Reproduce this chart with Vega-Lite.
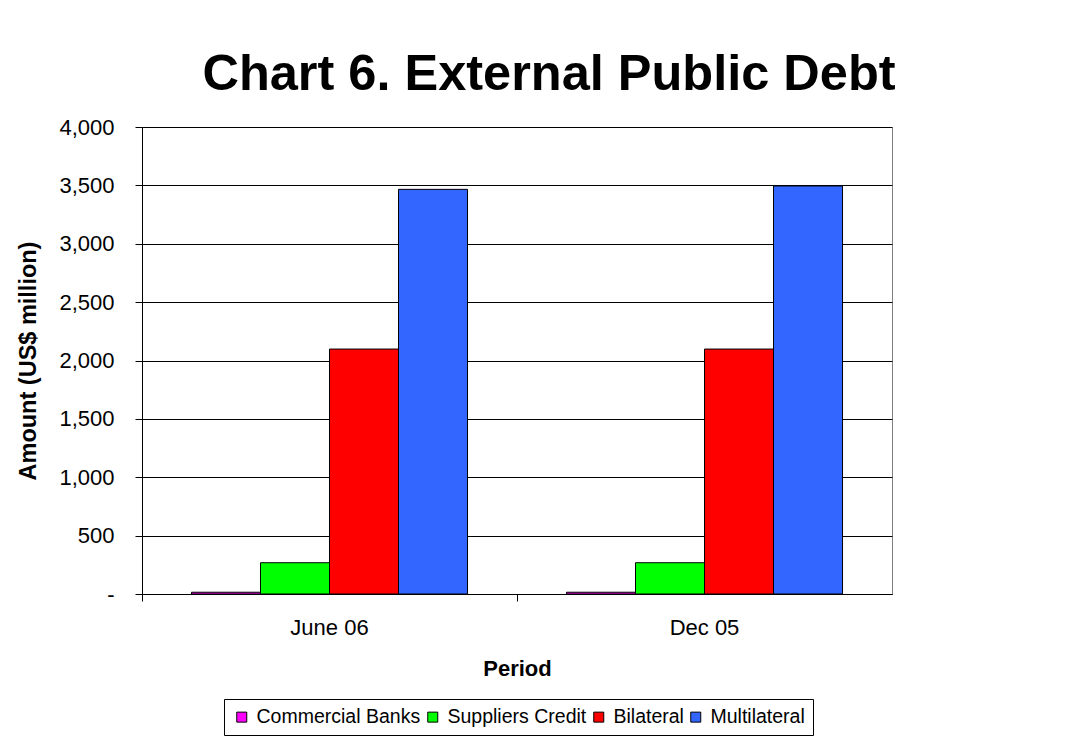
{
  "$schema": "https://vega.github.io/schema/vega-lite/v6.json",
  "autosize": {"type": "none"},
  "width": 750,
  "height": 467,
  "padding": {"left": 142, "top": 127, "right": 186, "bottom": 151},
  "background": "white",
  "config": {
    "font": "Liberation Sans",
    "view": {"stroke": "#808080", "strokeWidth": 1},
    "axis": {"labelColor": "black", "titleColor": "black", "domainColor": "black", "tickColor": "black"}
  },
  "title": {
    "text": "Chart 6. External Public Debt",
    "fontSize": 50.5,
    "fontWeight": "bold",
    "font": "Liberation Sans",
    "color": "black",
    "anchor": "middle",
    "frame": "group",
    "dx": 32,
    "offset": 16
  },
  "data": {
    "values": [
      {"period": "June 06", "type": "Commercial Banks", "amount": 15},
      {"period": "June 06", "type": "Suppliers Credit", "amount": 268},
      {"period": "June 06", "type": "Bilateral", "amount": 2098},
      {"period": "June 06", "type": "Multilateral", "amount": 3466},
      {"period": "Dec 05", "type": "Commercial Banks", "amount": 15},
      {"period": "Dec 05", "type": "Suppliers Credit", "amount": 268},
      {"period": "Dec 05", "type": "Bilateral", "amount": 2098},
      {"period": "Dec 05", "type": "Multilateral", "amount": 3495}
    ]
  },
  "mark": {"type": "bar", "stroke": "black", "strokeWidth": 1},
  "encoding": {
    "x": {
      "field": "period",
      "type": "nominal",
      "sort": ["June 06", "Dec 05"],
      "scale": {"paddingInner": 0, "paddingOuter": 0},
      "axis": {
        "title": "Period",
        "titleFontSize": 22,
        "titleFontWeight": "bold",
        "titlePadding": 20,
        "labelAngle": 0,
        "labelFontSize": 22,
        "labelPadding": 16,
        "tickSize": 7,
        "bandPosition": 0,
        "domainColor": "black",
        "grid": false
      }
    },
    "xOffset": {
      "field": "type",
      "type": "nominal",
      "sort": ["Commercial Banks", "Suppliers Credit", "Bilateral", "Multilateral"],
      "scale": {"paddingInner": 0, "paddingOuter": 0.717}
    },
    "y": {
      "field": "amount",
      "type": "quantitative",
      "scale": {"domain": [0, 4000], "nice": false},
      "axis": {
        "title": "Amount (US$ million)",
        "titleFontSize": 23.5,
        "titleFontWeight": "bold",
        "titlePadding": 18,
        "values": [0, 500, 1000, 1500, 2000, 2500, 3000, 3500, 4000],
        "labelExpr": "datum.value == 0 ? '-\u00a0\u00a0\u00a0\u00a0\u00a0' : format(datum.value, ',')",
        "labelFontSize": 22,
        "labelPadding": 21,
        "tickSize": 7,
        "grid": true,
        "gridColor": "black",
        "gridOpacity": 1,
        "gridWidth": 1
      }
    },
    "color": {
      "field": "type",
      "type": "nominal",
      "sort": ["Commercial Banks", "Suppliers Credit", "Bilateral", "Multilateral"],
      "scale": {
        "domain": ["Commercial Banks", "Suppliers Credit", "Bilateral", "Multilateral"],
        "range": ["#FF00FF", "#00FF00", "#FF0000", "#3366FF"]
      },
      "legend": {
        "title": null,
        "orient": "none",
        "legendX": 82,
        "legendY": 572,
        "direction": "horizontal",
        "labelFontSize": 19.5,
        "labelLimit": 400,
        "labelColor": "black",
        "symbolType": "square",
        "symbolSize": 100,
        "symbolStrokeColor": "black",
        "symbolStrokeWidth": 1,
        "symbolOpacity": 1,
        "columnPadding": 2,
        "labelOffset": 5,
        "strokeColor": "black",
        "padding": 8
      }
    }
  }
}
